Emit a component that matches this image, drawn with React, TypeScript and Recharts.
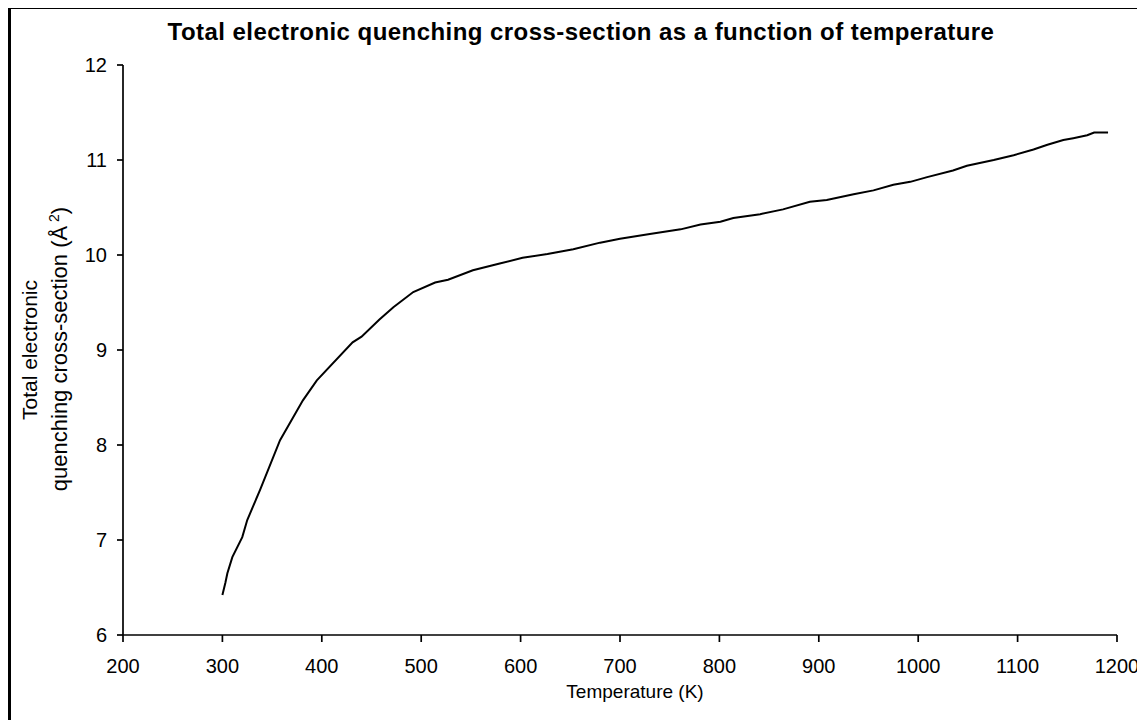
import React from "react";
import { LineChart, Line, XAxis, YAxis } from "recharts";

const temperatures = [300, 303, 305, 310, 320, 325, 338, 358, 381, 395, 431, 440, 458, 472, 492, 514, 527, 552, 579, 602, 627, 653, 680, 700, 730, 761, 781, 801, 814, 841, 864, 891, 908, 935, 955, 975, 992, 1009, 1035, 1049, 1076, 1096, 1116, 1130, 1146, 1156, 1170, 1177, 1191];
const crossSection = [6.42, 6.55, 6.65, 6.82, 7.03, 7.21, 7.53, 8.05, 8.47, 8.68, 9.08, 9.14, 9.32, 9.45, 9.61, 9.71, 9.74, 9.84, 9.91, 9.97, 10.01, 10.06, 10.13, 10.17, 10.22, 10.27, 10.32, 10.35, 10.39, 10.43, 10.48, 10.56, 10.58, 10.64, 10.68, 10.74, 10.77, 10.82, 10.89, 10.94, 11.0, 11.05, 11.11, 11.16, 11.21, 11.23, 11.26, 11.29, 11.29];
const xTicks = [200, 300, 400, 500, 600, 700, 800, 900, 1000, 1100, 1200];
const yTicks = [6, 7, 8, 9, 10, 11, 12];

const data = temperatures.map((t, i) => ({ t, v: crossSection[i] }));

const FONT = "'Liberation Sans', Arial, sans-serif";
const tickStyle = { fill: "#000", fontSize: 20, fontFamily: FONT };

const YLabel = () => (
  <g fontFamily={FONT} fontSize={21} fill="#000">
    <text transform="translate(26,341) rotate(-90)" textAnchor="middle">
      Total electronic
    </text>
    <text transform="translate(56,340) rotate(-90)" textAnchor="middle" fontSize={22}>
      quenching cross-section (Å
      <tspan dy={-8} fontSize={14}> 2</tspan>
      <tspan dy={8}>)</tspan>
    </text>
  </g>
);

const XLabel = (props: any) => {
  const vb = props.viewBox || { x: 0, y: 0, width: 0, height: 0 };
  return (
    <text
      x={vb.x + vb.width / 2 + 15}
      y={689}
      textAnchor="middle"
      fontFamily={FONT}
      fontSize={19}
      fill="#000"
    >
      Temperature (K)
    </text>
  );
};

export default function App() {
  return (
    <div
      style={{
        position: "relative",
        boxSizing: "border-box",
        width: 1134,
        height: 730,
        marginTop: -2,
        border: "3px solid #000",
        background: "#fff",
      }}
    >
      <div
        style={{
          position: "absolute",
          left: 0,
          top: 9,
          width: 1140,
          textAlign: "center",
          fontFamily: FONT,
          fontWeight: "bold",
          fontSize: 24,
          letterSpacing: 0.45,
          color: "#000",
          whiteSpace: "nowrap",
        }}
      >
        Total electronic quenching cross-section as a function of temperature
      </div>
      <LineChart
        width={1128}
        height={712}
        data={data}
        margin={{ top: 56, right: 22, left: 0, bottom: 46 }}
      >
        <XAxis
          dataKey="t"
          type="number"
          domain={[200, 1200]}
          ticks={xTicks}
          interval={0}
          allowDataOverflow
          stroke="#000"
          strokeWidth={1.7}
          tickSize={7}
          tickMargin={17}
          tick={tickStyle}
          height={40}
          label={<XLabel />}
        />
        <YAxis
          type="number"
          domain={[6, 12]}
          ticks={yTicks}
          interval={0}
          allowDataOverflow
          stroke="#000"
          strokeWidth={1.7}
          tickSize={6}
          tickMargin={10}
          tick={tickStyle}
          width={112}
          label={<YLabel />}
        />
        <Line
          type="linear"
          dataKey="v"
          stroke="#000"
          strokeWidth={2}
          dot={false}
          isAnimationActive={false}
        />
      </LineChart>
    </div>
  );
}
